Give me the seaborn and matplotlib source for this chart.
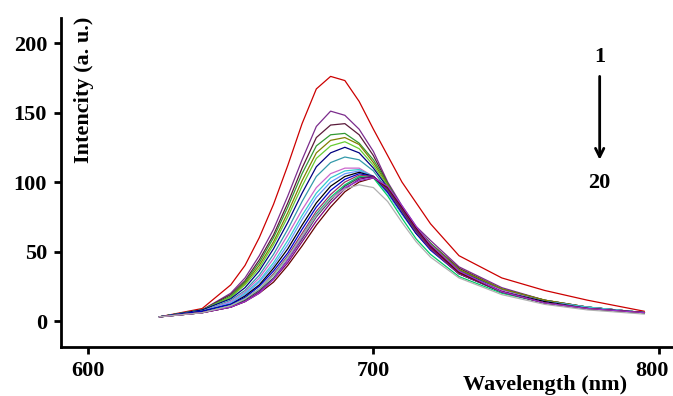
import pandas as pd
import numpy as np
import matplotlib
matplotlib.use("Agg")
import matplotlib.pyplot as plt
import matplotlib.transforms as mtransforms
import seaborn as sns

# wavelength grid (nm) shared by all 20 emission spectra
wavelength = [625, 640, 650, 655, 660, 665, 670, 675, 680, 685, 690, 695,
              700, 705, 710, 715, 720, 730, 745, 760, 775, 795]

# intensity (a. u.), spectrum 1 (top) to 20 (bottom)
s01 = [3, 9, 26, 40, 60, 84, 112, 142, 167, 176, 173, 158, 138, 119, 100, 85, 70, 47, 31, 22, 15, 7]
s02 = [3, 8, 20, 31, 47, 66, 90, 116, 140, 151, 148, 138, 122, 100, 83, 68, 58, 39, 24, 15, 10, 6]
s03 = [3, 8, 19, 29, 44, 62, 85, 110, 132, 141, 142, 134, 119, 99, 81, 67, 56, 38, 23, 15, 10, 6]
s04 = [3, 8, 18, 28, 42, 60, 82, 106, 126, 134, 135, 128, 116, 99, 81, 67, 56, 37, 23, 15, 10, 6]
s05 = [3, 8, 17, 27, 40, 57, 78, 101, 121, 130, 132, 127, 114, 98, 80, 66, 55, 37, 23, 15, 10, 6]
s06 = [3, 8, 17, 26, 38, 55, 75, 97, 117, 126, 129, 124, 112, 97, 80, 66, 55, 36, 22, 14, 10, 6]
s07 = [3, 8, 16, 24, 36, 52, 71, 92, 111, 121, 125, 121, 110, 96, 79, 65, 54, 36, 22, 14, 10, 6]
s08 = [3, 7, 15, 22, 33, 48, 66, 86, 104, 114, 118, 116, 108, 94, 78, 64, 53, 35, 22, 14, 10, 6]
s09 = [3, 7, 14, 21, 31, 45, 62, 80, 96, 106, 110, 110, 104, 92, 77, 63, 52, 35, 22, 14, 10, 6]
s10 = [3, 7, 13, 20, 29, 42, 58, 76, 92, 103, 108, 109, 104, 92, 77, 63, 52, 35, 21, 14, 10, 6]
s11 = [3, 7, 13, 19, 28, 40, 55, 73, 89, 100, 106, 108, 104, 92, 77, 63, 52, 35, 21, 14, 9, 6]
s12 = [3, 7, 12, 18, 26, 38, 52, 69, 85, 97, 104, 107, 104, 93, 78, 63, 52, 34, 21, 14, 9, 6]
s13 = [3, 7, 12, 17, 25, 36, 49, 66, 82, 94, 102, 106, 104, 93, 78, 63, 51, 34, 21, 13, 9, 6]
s14 = [3, 6, 11, 16, 23, 34, 47, 63, 79, 91, 100, 105, 104, 94, 79, 64, 52, 34, 21, 13, 9, 6]
s15 = [3, 6, 11, 16, 23, 33, 46, 61, 77, 89, 98, 104, 103, 90, 74, 59, 48, 32, 20, 13, 9, 6]
s16 = [3, 6, 10, 15, 22, 31, 44, 59, 75, 87, 97, 103, 104, 95, 80, 65, 53, 35, 21, 13, 9, 6]
s17 = [3, 6, 10, 14, 21, 30, 42, 57, 72, 85, 95, 102, 104, 96, 81, 66, 53, 35, 21, 13, 9, 6]
s18 = [3, 6, 10, 14, 20, 28, 40, 54, 69, 82, 93, 100, 103, 96, 82, 67, 54, 35, 21, 13, 9, 6]
s19 = [3, 6, 10, 14, 20, 30, 44, 60, 76, 88, 96, 101, 103, 97, 83, 68, 55, 36, 21, 13, 9, 6]
s20 = [3, 6, 11, 16, 23, 33, 46, 61, 76, 88, 95, 98, 96, 86, 71, 57, 46, 31, 19, 12, 8, 5]

spectra = [s01, s02, s03, s04, s05, s06, s07, s08, s09, s10,
           s11, s12, s13, s14, s15, s16, s17, s18, s19, s20]
labels = [str(i) for i in range(1, 21)]

colors = ['#cc0000', '#7b2c8c', '#5a1a3a', '#339933', '#808000',
          '#66cc33', '#000080', '#3399aa', '#cc66cc', '#33cccc',
          '#6699ff', '#000000', '#0000cc', '#993366', '#00cc66',
          '#2f4f4f', '#800080', '#660000', '#9933cc', '#b0b0b0']

rows = []
for lab, vals in zip(labels, spectra):
    for w, v in zip(wavelength, vals):
        rows.append({'Wavelength': w, 'Intensity': v, 'Spectrum': lab})
df = pd.DataFrame(rows)

sns.set_style("ticks")
plt.rcParams['font.family'] = ['Liberation Serif', 'DejaVu Serif']
plt.rcParams['font.weight'] = 'bold'
plt.rcParams['text.color'] = 'black'
plt.rcParams['axes.labelcolor'] = 'black'
plt.rcParams['xtick.color'] = 'black'
plt.rcParams['ytick.color'] = 'black'

fig = plt.figure(figsize=(6.73, 3.96), dpi=100)
ax = fig.add_axes([0.0906, 0.1237, 0.9094, 0.8308])

sns.lineplot(data=df, x='Wavelength', y='Intensity', hue='Spectrum',
             palette=colors, linewidth=0.9, legend=False, ax=ax,
             sort=False, estimator=None)

ax.set_xlim(590.5, 805)
ax.set_ylim(-18.7, 218)
ax.set_xticks([600, 700, 800])
ax.set_yticks([0, 50, 100, 150, 200])
for side in ['top', 'right']:
    ax.spines[side].set_visible(False)
for side in ['left', 'bottom']:
    ax.spines[side].set_linewidth(2)
    ax.spines[side].set_color('black')
ax.tick_params(axis='both', direction='out', length=5, width=2,
               labelsize=16, colors='black', pad=5)
for t in ax.get_xticklabels() + ax.get_yticklabels():
    t.set_fontweight('bold')

# nudge the "800" label a little left so it stays inside the figure
last = ax.get_xticklabels()[-1]
shift = mtransforms.ScaledTranslation(-5 / 72, 0, fig.dpi_scale_trans)
last.set_transform(last.get_transform() + shift)

ax.set_xlabel('')
ax.set_ylabel('')
ax.text(789, -46, 'Wavelength (nm)', ha='right', va='center',
        fontsize=16, fontweight='bold', clip_on=False)
ax.text(598.5, 219, 'Intencity (a. u.)', ha='center', va='top',
        rotation=90, fontsize=16, fontweight='bold')

# arrow marking the order of the spectra
ax.text(779.3, 190, '1', ha='center', va='center', fontsize=16, fontweight='bold')
ax.text(779.3, 99, '20', ha='center', va='center', fontsize=16, fontweight='bold')
ax.annotate('', xy=(779.3, 114), xytext=(779.3, 178),
            arrowprops=dict(arrowstyle='->', color='black', lw=2,
                            mutation_scale=15))

fig.savefig('out.png', dpi=100)
